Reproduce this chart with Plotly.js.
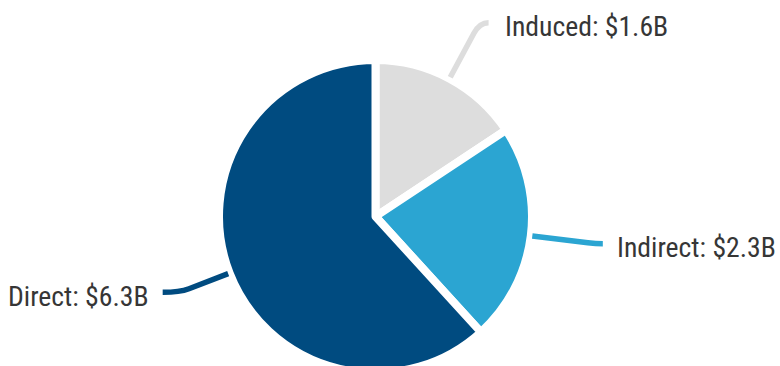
<!DOCTYPE html>
<html>
<head>
<meta charset="utf-8">
<script src="https://cdn.plot.ly/plotly-3.0.1.min.js"></script>
<style>
  html, body { margin: 0; padding: 0; overflow: hidden; background: #fff; }
  #chart { width: 780px; height: 373px; }
</style>
</head>
<body>
<div id="chart"></div>
<script>
// ---- data ----
const labels = ['Induced', 'Indirect', 'Direct'];
const values = [1.6, 2.3, 6.3];
const valueLabels = ['$1.6B', '$2.3B', '$6.3B'];

// ---- style ----
const sliceColors = ['#dddddd', '#2ba5d2', '#004b80'];
const textColor = '#363636';
const fontFamily = '"Roboto Condensed", "Liberation Sans Narrow", "DejaVu Sans Condensed", Roboto, sans-serif';

const W = 780, H = 373;
const margin = { l: 0, r: 29, t: 60, b: 0 };
const pw = W - margin.l - margin.r, ph = H - margin.t - margin.b;
const cx = margin.l + pw / 2, cy = margin.t + ph / 2;

// leader geometry (radii in px from pie centre, tail = horizontal end length, gap = text offset)
const leader = [
  { r1: 158, r2: 208, r3: 220, tail: 9,   gap: 14 },
  { r1: 158, r2: 214, r3: 222, tail: 7,   gap: 12 },
  { r1: 158, r2: 200, r3: 210, tail: -17, gap: -12 }
];

const toPx = (px) => (px - margin.l) / pw;
const toPy = (py) => 1 - (py - margin.t) / ph;

const total = values.reduce((a, b) => a + b, 0);
let cum = 0;
const shapes = [];
const annotations = [];
values.forEach((v, i) => {
  const mid = (cum + v / 2) / total * 2 * Math.PI;
  cum += v;
  const pt = (r) => [cx + r * Math.sin(mid), cy - r * Math.cos(mid)];
  const L = leader[i];
  const p0 = pt(L.r1), p1 = pt(L.r2), c = pt(L.r3);
  const e = [c[0] + L.tail, c[1]];
  const f = (p) => toPx(p[0]).toFixed(5) + ',' + toPy(p[1]).toFixed(5);
  shapes.push({
    type: 'path', xref: 'paper', yref: 'paper',
    path: 'M' + f(p0) + ' L' + f(p1) + ' Q' + f(c) + ' ' + f(e),
    line: { color: sliceColors[i], width: 5.5 }
  });
  annotations.push({
    xref: 'paper', yref: 'paper', x: toPx(e[0]), y: toPy(e[1]),
    xanchor: L.gap > 0 ? 'left' : 'right', yanchor: 'middle',
    xshift: L.gap, yshift: -4,
    text: labels[i] + ': ' + valueLabels[i],
    showarrow: false,
    font: { family: fontFamily, size: 27.7, color: textColor }
  });
});

const trace = {
  type: 'pie',
  labels: labels,
  values: values,
  sort: false,
  direction: 'clockwise',
  rotation: 0,
  textinfo: 'none',
  hoverinfo: 'none',
  marker: { colors: sliceColors, line: { color: '#ffffff', width: 8 } },
  domain: { x: [0, 1], y: [0, 1] }
};

const layout = {
  width: W, height: H,
  margin: margin,
  showlegend: false,
  paper_bgcolor: '#ffffff',
  plot_bgcolor: '#ffffff',
  shapes: shapes,
  annotations: annotations
};

Plotly.newPlot('chart', [trace], layout, { displayModeBar: false, staticPlot: true });
</script>
</body>
</html>
